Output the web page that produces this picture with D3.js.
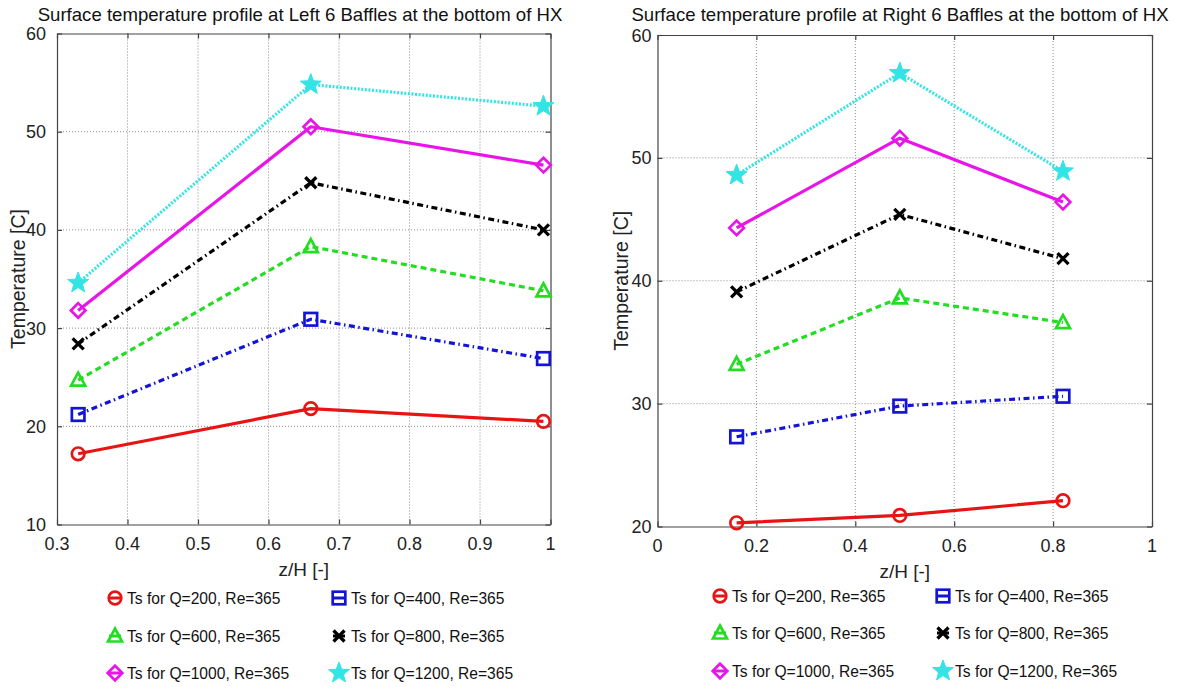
<!DOCTYPE html>
<html>
<head>
<meta charset="utf-8">
<script src="https://cdn.jsdelivr.net/npm/d3@7"></script>
<style>
  html, body { margin: 0; padding: 0; background: #fff; }
  svg { display: block; font-family: "Liberation Sans", Arial, Helvetica, sans-serif; }
</style>
</head>
<body>
<svg id="chart" width="1183" height="689"></svg>
<script>
// ---- data -------------------------------------------------------------
const seriesNames = [
  "Ts for Q=200, Re=365",
  "Ts for Q=400, Re=365",
  "Ts for Q=600, Re=365",
  "Ts for Q=800, Re=365",
  "Ts for Q=1000, Re=365",
  "Ts for Q=1200, Re=365"
];

// left 6 baffles: axial positions and surface temperatures [C]
const leftZ = [0.33, 0.66, 0.99];
const leftQ200  = [17.2, 21.8, 20.5];
const leftQ400  = [21.2, 30.9, 26.9];
const leftQ600  = [24.7, 38.3, 33.8];
const leftQ800  = [28.4, 44.8, 40.0];
const leftQ1000 = [31.8, 50.5, 46.6];
const leftQ1200 = [34.6, 54.8, 52.6];

// right 6 baffles
const rightZ = [0.16, 0.49, 0.82];
const rightQ200  = [20.3, 20.9, 22.1];
const rightQ400  = [27.3, 29.8, 30.6];
const rightQ600  = [33.2, 38.6, 36.6];
const rightQ800  = [39.1, 45.4, 41.8];
const rightQ1000 = [44.3, 51.6, 46.4];
const rightQ1200 = [48.6, 56.9, 48.9];

// tick values
const leftXTicks  = [0.3, 0.4, 0.5, 0.6, 0.7, 0.8, 0.9, 1];
const leftYTicks  = [10, 20, 30, 40, 50, 60];
const rightXTicks = [0, 0.2, 0.4, 0.6, 0.8, 1];
const rightYTicks = [20, 30, 40, 50, 60];

// ---- styles -----------------------------------------------------------
const seriesStyles = [
  { color: "#e81414", dash: null,            marker: "circle"   },
  { color: "#1414d8", dash: "6,3.5,1.5,3.5", marker: "square"   },
  { color: "#22dd22", dash: "6,4",           marker: "triangle" },
  { color: "#000000", dash: "6,3.5,1.5,3.5", marker: "cross"    },
  { color: "#e814e8", dash: null,            marker: "diamond"  },
  { color: "#33e4e4", dash: "2,1.6",         marker: "star"     }
];

const svg = d3.select("#chart");

function starPath(R) {
  const r = R * 0.42;
  const pts = [];
  for (let i = 0; i < 10; i++) {
    const a = -Math.PI / 2 + i * Math.PI / 5;
    const rad = i % 2 === 0 ? R : r;
    pts.push([rad * Math.cos(a), rad * Math.sin(a)]);
  }
  return "M" + pts.map(p => p[0].toFixed(2) + "," + p[1].toFixed(2)).join("L") + "Z";
}

function drawMarker(g, kind, color) {
  switch (kind) {
    case "circle":
      g.append("circle").attr("r", 6.3)
        .attr("fill", "none").attr("stroke", color).attr("stroke-width", 2.7);
      break;
    case "square":
      g.append("rect").attr("x", -6.3).attr("y", -6.3).attr("width", 12.6).attr("height", 12.6)
        .attr("fill", "none").attr("stroke", color).attr("stroke-width", 2.7);
      break;
    case "triangle":
      g.append("path").attr("d", "M0,-7.5L7,5.5L-7,5.5Z")
        .attr("fill", "none").attr("stroke", color).attr("stroke-width", 2.7)
        .attr("stroke-linejoin", "miter");
      break;
    case "cross":
      g.append("path").attr("d", "M-5.5,-5.5L5.5,5.5M-5.5,5.5L5.5,-5.5")
        .attr("fill", "none").attr("stroke", color).attr("stroke-width", 3.3);
      break;
    case "diamond":
      g.append("path").attr("d", "M0,-7.3L7.3,0L0,7.3L-7.3,0Z")
        .attr("fill", "none").attr("stroke", color).attr("stroke-width", 2.7);
      break;
    case "star":
      g.append("path").attr("d", starPath(11))
        .attr("fill", color).attr("stroke", color).attr("stroke-width", 1);
      break;
  }
}

function drawPanel(cfg) {
  const x = d3.scaleLinear().domain(cfg.xDomain).range([cfg.left, cfg.right]);
  const y = d3.scaleLinear().domain(cfg.yDomain).range([cfg.bottom, cfg.top]);
  const w = cfg.right - cfg.left, h = cfg.bottom - cfg.top;
  const g = svg.append("g");
  const fmt = d3.format("~g");

  // grid
  const grid = g.append("g").attr("stroke", "#8c8c8c").attr("stroke-width", 1)
    .attr("stroke-dasharray", "1,2");
  grid.selectAll(".gx").data(cfg.xTicks.slice(1, -1)).join("line")
    .attr("x1", d => x(d)).attr("x2", d => x(d))
    .attr("y1", cfg.top).attr("y2", cfg.bottom);
  grid.selectAll(".gy").data(cfg.yTicks.slice(1, -1)).join("line")
    .attr("y1", d => y(d)).attr("y2", d => y(d))
    .attr("x1", cfg.left).attr("x2", cfg.right);

  // axes frame with inward ticks (labels added separately)
  const frame = [
    [d3.axisBottom(x).tickValues(cfg.xTicks), `translate(0,${cfg.bottom})`],
    [d3.axisTop(x).tickValues(cfg.xTicks), `translate(0,${cfg.top})`],
    [d3.axisLeft(y).tickValues(cfg.yTicks), `translate(${cfg.left},0)`],
    [d3.axisRight(y).tickValues(cfg.yTicks), `translate(${cfg.right},0)`]
  ];
  frame.forEach(([axis, tr]) => {
    g.append("g").attr("transform", tr)
      .call(axis.tickSizeInner(-5).tickSizeOuter(0).tickFormat(""))
      .selectAll("path,line").attr("stroke", "#444").attr("stroke-width", 1.2);
  });

  // tick labels
  g.append("g").selectAll("text").data(cfg.xTicks).join("text")
    .attr("x", d => x(d)).attr("y", cfg.bottom + 25)
    .attr("text-anchor", "middle").attr("font-size", cfg.tickFont).attr("fill", "#222")
    .text(d => fmt(d));
  g.append("g").selectAll("text").data(cfg.yTicks).join("text")
    .attr("x", cfg.left - cfg.yLabelGap).attr("y", d => y(d) + 6.5)
    .attr("text-anchor", "end").attr("font-size", cfg.tickFont).attr("fill", "#222")
    .text(d => fmt(d));

  // axis titles
  g.append("text").attr("x", cfg.left + w / 2).attr("y", cfg.bottom + 51)
    .attr("text-anchor", "middle").attr("font-size", 19).attr("fill", "#222").text("z/H [-]");
  g.append("text")
    .attr("transform", `translate(${cfg.yTitleX},${cfg.top + h / 2}) rotate(-90)`)
    .attr("text-anchor", "middle").attr("font-size", 19.5).attr("fill", "#222").text("Temperature [C]");
  g.append("text").attr("x", cfg.titleX).attr("y", 21)
    .attr("text-anchor", "middle").attr("font-size", 18.6).attr("fill", "#111").text(cfg.title);

  // series
  const line = d3.line().x(d => x(d[0])).y(d => y(d[1]));
  cfg.series.forEach((vals, i) => {
    const st = seriesStyles[i];
    const pts = cfg.z.map((z, k) => [z, vals[k]]);
    g.append("path").datum(pts).attr("d", line)
      .attr("fill", "none").attr("stroke", st.color).attr("stroke-width", 3.2)
      .attr("stroke-dasharray", st.dash).attr("stroke-linejoin", "round");
    pts.forEach(p => {
      const m = g.append("g").attr("transform", `translate(${x(p[0])},${y(p[1])})`);
      drawMarker(m, st.marker, st.color);
    });
  });

  // legend (two columns, three rows, no frame)
  seriesNames.forEach((name, i) => {
    const col = i % 2, row = Math.floor(i / 2);
    const lx = cfg.legendCols[col], ly = cfg.legendRows[row];
    const st = seriesStyles[i];
    const lg = g.append("g").attr("transform", `translate(${lx},${ly})`);
    lg.append("line").attr("x1", -6).attr("x2", 6).attr("y1", 0).attr("y2", 0)
      .attr("stroke", st.color).attr("stroke-width", 3);
    drawMarker(lg, st.marker, st.color);
    lg.append("text").attr("x", 12).attr("y", 5.5).attr("font-size", 15.6).attr("fill", "#111").text(name);
  });
}

drawPanel({
  title: "Surface temperature profile at Left 6 Baffles at the bottom of HX",
  left: 57, right: 550.5, top: 33.5, bottom: 524.5, titleX: 300,
  xDomain: [0.3, 1], yDomain: [10, 60],
  xTicks: leftXTicks, yTicks: leftYTicks,
  z: leftZ,
  series: [leftQ200, leftQ400, leftQ600, leftQ800, leftQ1000, leftQ1200],
  tickFont: 18, yLabelGap: 11, yTitleX: 25,
  legendCols: [115, 339], legendRows: [598, 636, 673]
});

drawPanel({
  title: "Surface temperature profile at Right 6 Baffles at the bottom of HX",
  left: 657.5, right: 1152, top: 35, bottom: 526.5, titleX: 900,
  xDomain: [0, 1], yDomain: [20, 60],
  xTicks: rightXTicks, yTicks: rightYTicks,
  z: rightZ,
  series: [rightQ200, rightQ400, rightQ600, rightQ800, rightQ1000, rightQ1200],
  tickFont: 18, yLabelGap: 6, yTitleX: 628,
  legendCols: [720, 943], legendRows: [596, 633, 671]
});
</script>
</body>
</html>
